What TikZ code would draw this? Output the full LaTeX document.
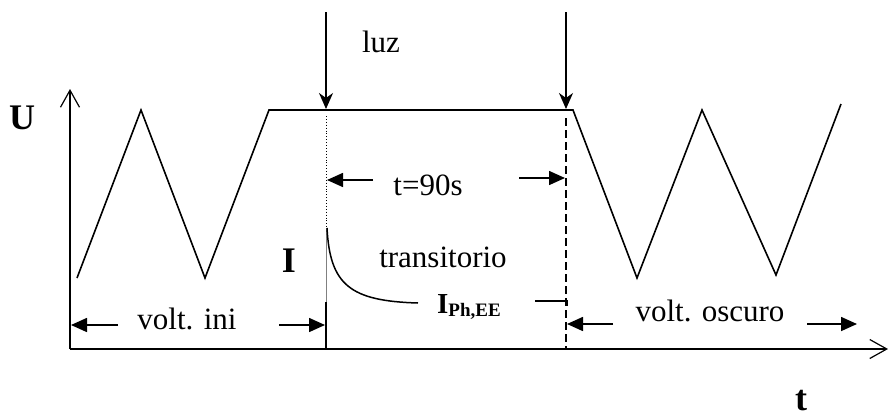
\documentclass[tikz,border=0pt]{standalone}
\usepackage{fontspec}
\setmainfont{Liberation Serif}
\usetikzlibrary{arrows.meta}
\tikzset{
  wave/.style={line width=1.6pt, line join=miter},
  axis/.style={line width=1.4pt, -{Straight Barb[length=17pt,width=19pt,line width=1.2pt]}},
  lightarrow/.style={line width=1.5pt, -{Stealth[length=16pt,width=14pt,inset=5pt]}},
  dimarrow/.style={line width=1.6pt, -{Triangle[length=16pt,width=14pt]}},
  txt/.style={inner sep=0pt, anchor=base, font=\fontsize{31}{36}\selectfont},
  btxt/.style={inner sep=0pt, anchor=base, font=\fontsize{36}{40}\selectfont\bfseries},
}
\begin{document}
\begin{tikzpicture}[x=1pt,y=-1pt]
\useasboundingbox (0,0) rectangle (889,416);
% axes
\coordinate (O) at (70,349);
\coordinate (ytip) at (70,89);
\coordinate (xtip) at (888,349);
\draw[axis] (O) -- (ytip);
\draw[axis] (O) -- (xtip);
% waveform
\coordinate (w0) at (77,278);
\coordinate (w1) at (141,110);
\coordinate (w2) at (205,278);
\coordinate (w3) at (269,110);
\coordinate (w4) at (573,110);
\coordinate (w5) at (637,278);
\coordinate (w6) at (702,110);
\coordinate (w7) at (776,275);
\coordinate (w8) at (841,104);
\draw[wave] (w0) -- (w1) -- (w2) -- (w3) -- (w4) -- (w5) -- (w6) -- (w7) -- (w8);
% light arrows
\coordinate (l1a) at (326,12);
\coordinate (l1b) at (326,109);
\coordinate (l2a) at (566,12);
\coordinate (l2b) at (566,109);
\draw[lightarrow] (l1a) -- (l1b);
\draw[lightarrow] (l2a) -- (l2b);
\node[txt] (luz) at (381,52) {luz};
% vertical markers
\coordinate (v1a) at (326,116);
\coordinate (v1b) at (326,228);
\coordinate (v1c) at (326,302);
\coordinate (v1d) at (326,349);
\draw[line width=0.9pt, dotted] (v1a) -- (v1b);
\draw[line width=0.5pt, gray] (v1b) -- (v1c);
\draw[line width=1.5pt] (v1c) -- (v1d);
\coordinate (v2a) at (566,118);
\coordinate (v2b) at (566,349);
\draw[line width=1.3pt, dash pattern=on 8pt off 4pt] (v2a) -- (v2b);
% transient current
\coordinate (c0) at (327,228);
\coordinate (c1) at (418,303);
\draw[line width=1.5pt] (c0) .. controls (330,285) and (350,301) .. (c1);
\coordinate (c2) at (535,301);
\coordinate (c3) at (567,301);
\coordinate (c4) at (567,306);
\draw[line width=1.5pt] (c2) -- (c3) -- (c4);
\node[inner sep=0pt, anchor=base west] (iph) at (437,313)
  {\fontsize{29}{32}\selectfont\bfseries I\raisebox{-3pt}{\fontsize{19}{22}\selectfont Ph,EE}};
% t=90s
\coordinate (ta) at (373,180);
\coordinate (tb) at (327,180);
\coordinate (tc) at (519,178);
\coordinate (td) at (565,178);
\draw[dimarrow] (ta) -- (tb);
\draw[dimarrow] (tc) -- (td);
\node[txt] (t90) at (428,195) {t=90s};
\node[txt] (trans) at (443,267) {transitorio};
% volt. ini
\coordinate (va) at (118,325);
\coordinate (vb) at (71,325);
\coordinate (vc) at (279,325);
\coordinate (vd) at (325,325);
\draw[dimarrow] (va) -- (vb);
\draw[dimarrow] (vc) -- (vd);
\node[txt] (vini) at (187,329) {volt. ini};
% volt. oscuro
\coordinate (oa) at (613,324);
\coordinate (ob) at (567,324);
\coordinate (oc) at (807,324);
\coordinate (od) at (857,324);
\draw[dimarrow] (oa) -- (ob);
\draw[dimarrow] (oc) -- (od);
\node[txt] (vosc) at (710,321) {volt. oscuro};
% axis labels
\node[btxt] (U) at (22,129) {U};
\node[btxt] (I) at (289,272) {I};
\node[btxt] (t) at (801,410) {t};
\end{tikzpicture}
\end{document}
